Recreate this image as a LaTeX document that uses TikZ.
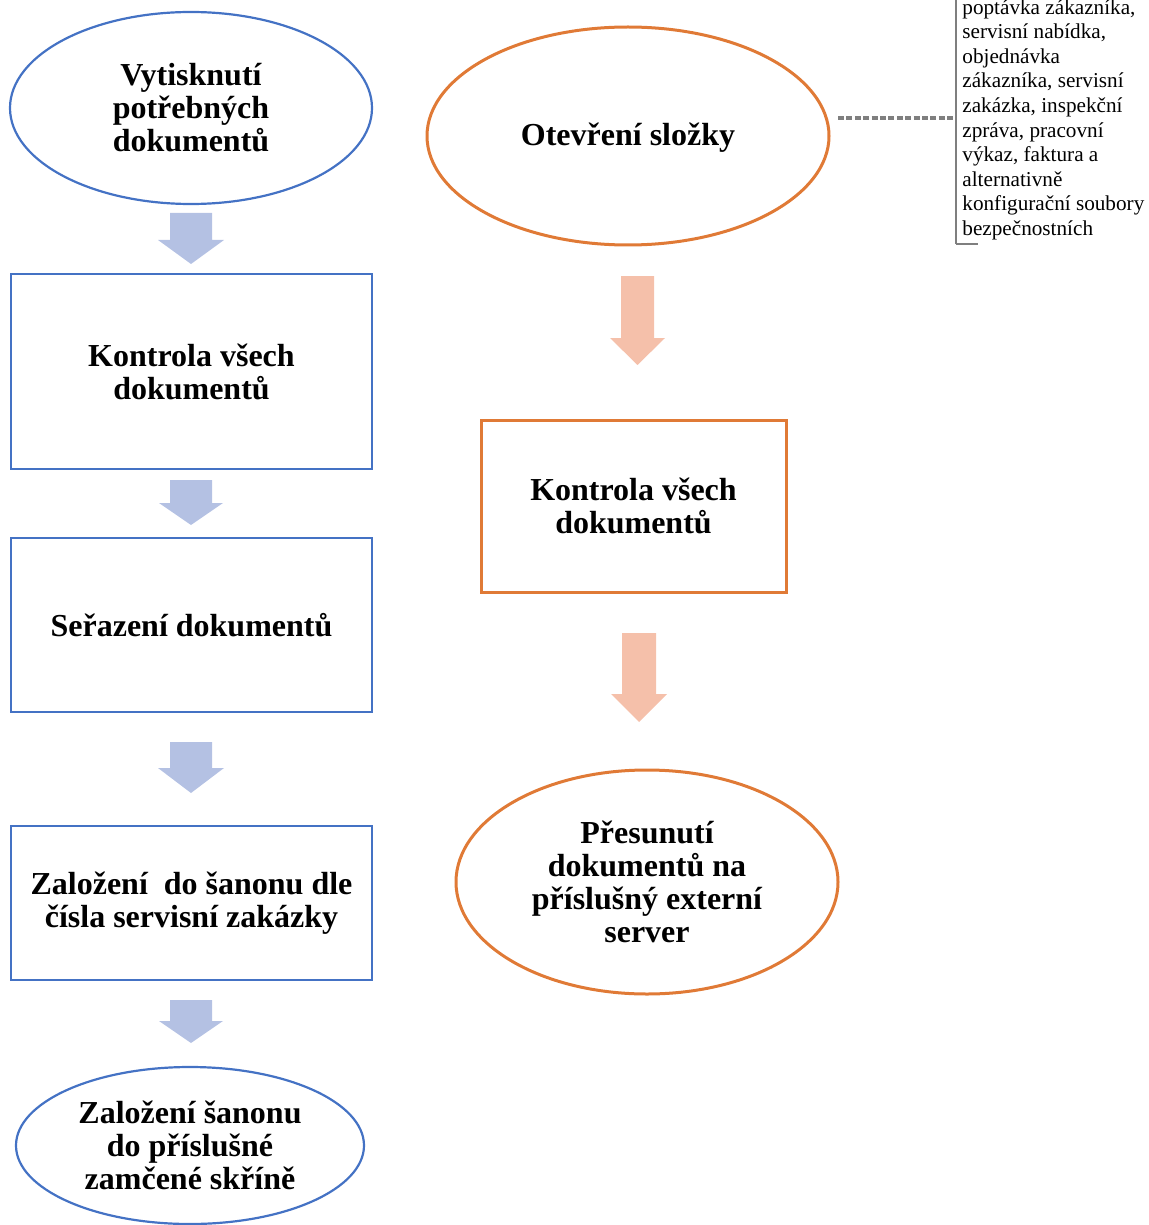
\documentclass[tikz,border=0pt]{standalone}
\usepackage{fontspec}
\setmainfont{Liberation Serif}
\usetikzlibrary{shapes.geometric}
\definecolor{blueline}{HTML}{4472C4}
\definecolor{orangeline}{HTML}{E07A36}
\definecolor{bluearrow}{HTML}{B4C1E3}
\definecolor{orangearrow}{HTML}{F5C0AA}
\definecolor{notegray}{HTML}{7F7F7F}
\tikzset{
  px/.style={x=0.5pt,y=-0.5pt},
  % sizes given in image pixels (1 px = 0.5 pt)
  size/.style 2 args={minimum width=#1*0.5pt, minimum height=#2*0.5pt},
  lbl/.style={font=\fontsize{16}{16.5}\selectfont\bfseries, align=center, text=black},
  blueoval/.style={draw=blueline, line width=1.1pt, ellipse, inner sep=0pt},
  bluebox/.style={draw=blueline, line width=1.1pt, rectangle, inner sep=0pt},
  orangeoval/.style={draw=orangeline, line width=1.5pt, ellipse, inner sep=0pt},
  orangebox/.style={draw=orangeline, line width=1.5pt, rectangle, inner sep=0pt},
  notetext/.style={font=\fontsize{10.6}{12.3}\selectfont, align=left, anchor=north west, inner sep=0pt},
}
% block arrow pointing down: #1 colour, top y, shaft bottom y, tip y, centre x, half shaft, half head
\newcommand{\downarrowblock}[7]{%
  \fill[#1] (#5-#6,#2) -- (#5+#6,#2) -- (#5+#6,#3) -- (#5+#7,#3) -- (#5,#4)
    -- (#5-#7,#3) -- (#5-#6,#3) -- cycle;}
\begin{document}
\begin{tikzpicture}[px]
\useasboundingbox (0,0) rectangle (1149,1225);

% left column
\node[blueoval, size={362}{192}] (print) at (191,108) {};
\node[lbl] at (print.center) {Vytisknutí\\potřebných\\dokumentů};

\node[bluebox, size={361}{195}] (checkA) at (191.5,371.5) {};
\node[lbl] at (checkA.center) {Kontrola všech\\dokumentů};

\node[bluebox, size={361}{174}] (sort) at (191.5,625) {};
\node[lbl] at (sort.center) {Seřazení dokumentů};

\node[bluebox, size={361}{154}] (file) at (191.5,903) {};
\node[lbl] at (file.center) {Založení\ \ do šanonu dle\\čísla servisní zakázky};

\node[blueoval, size={348}{157}] (store) at (190,1145.5) {};
\node[lbl] at (store.center) {Založení šanonu\\do příslušné\\zamčené skříně};

\downarrowblock{bluearrow}{213}{240}{264}{191}{21}{33}
\downarrowblock{bluearrow}{480}{503}{525}{191}{21}{32}
\downarrowblock{bluearrow}{742}{768}{793}{191}{21}{33}
\downarrowblock{bluearrow}{1000}{1021}{1043}{191}{21}{32}

% right column
\node[orangeoval, size={402}{218}] (open) at (628,136) {};
\node[lbl] at ([yshift=-1pt]open.center) {Otevření složky};

\node[orangebox, size={305}{172}] (checkB) at (633.5,506) {};
\node[lbl] at (checkB.center) {Kontrola všech\\dokumentů};

\node[orangeoval, size={382}{224}] (move) at (647,882) {};
\node[lbl] at (move.center) {Přesunutí\\dokumentů na\\příslušný externí\\server};

\downarrowblock{orangearrow}{276}{338}{365}{637.5}{16.5}{27.5}
\downarrowblock{orangearrow}{633}{694}{722}{639}{17}{28}

% annotation bracket with list of documents
\coordinate (brtop) at (956,0);
\coordinate (brmid) at (956,118);
\coordinate (brbot) at (956,244);
\coordinate (brend) at (978,244);
\coordinate (dashstart) at (838,118);
\draw[notegray, line width=1.6pt, dash pattern=on 3pt off 1.2pt] (dashstart) -- (brmid);
\draw[notegray, line width=0.8pt] (brtop) -- (brbot);
\draw[notegray, line width=1.3pt] (brbot) -- (brend);
\node[notetext] (note) at (962,-1) {poptávka zákazníka,\\servisní nabídka,\\objednávka\\zákazníka, servisní\\zakázka, inspekční\\zpráva, pracovní\\výkaz, faktura a\\alternativně\\konfigurační soubory\\bezpečnostních};
\end{tikzpicture}
\end{document}
